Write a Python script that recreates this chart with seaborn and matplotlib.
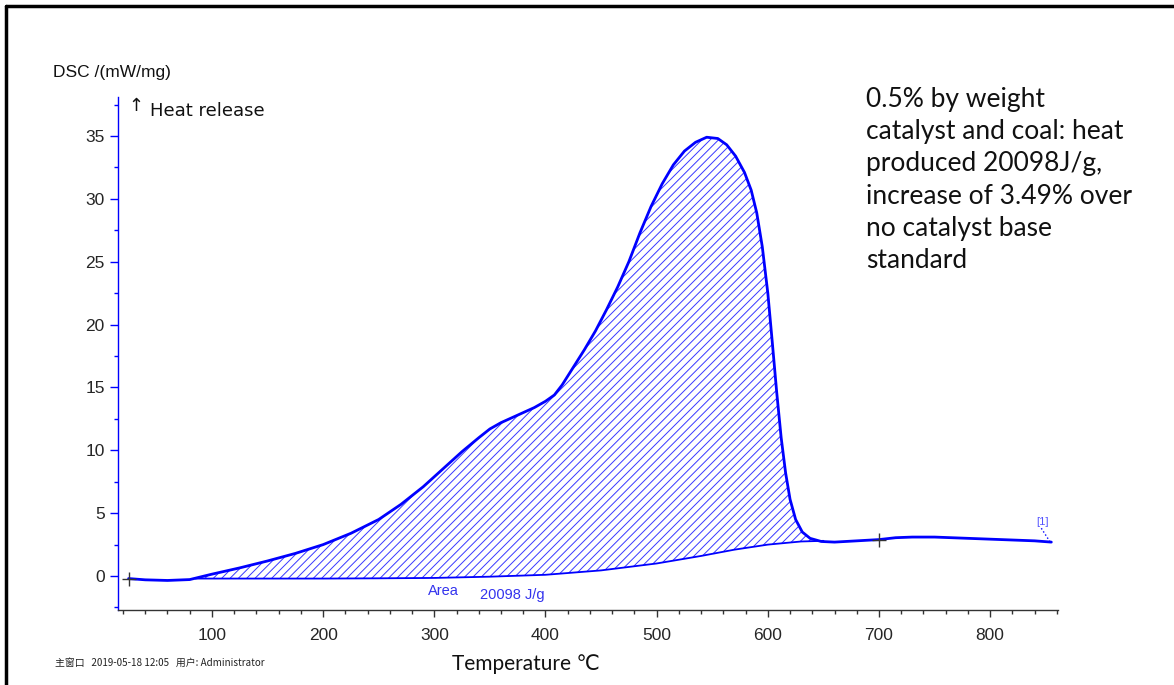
import numpy as np
import pandas as pd
import matplotlib
matplotlib.use("Agg")
import matplotlib.pyplot as plt
import seaborn as sns
from matplotlib.ticker import MultipleLocator

# ---- data ----
temp = [25, 40, 60, 80, 100, 125, 150, 175, 200, 225, 250, 270, 290, 310, 325, 340,
        350, 360, 370, 380, 390, 400, 408, 415, 425, 435, 445, 455, 465, 475, 485,
        495, 505, 515, 525, 535, 545, 555, 563, 571, 579, 585, 590, 595, 600, 604,
        608, 612, 616, 620, 625, 631, 638, 648, 660, 680, 700, 715, 730, 750, 780,
        810, 840, 855]
dsc = [-0.2, -0.3, -0.35, -0.28, 0.15, 0.65, 1.2, 1.8, 2.5, 3.4, 4.5, 5.7, 7.1, 8.7, 9.9, 11.0,
       11.7, 12.2, 12.6, 13.0, 13.4, 13.9, 14.4, 15.2, 16.6, 18.0, 19.5, 21.2, 23.0, 25.0, 27.3,
       29.4, 31.2, 32.7, 33.8, 34.5, 34.9, 34.8, 34.3, 33.4, 32.1, 30.7, 28.9, 26.2, 22.5, 18.6,
       14.6, 11.0, 8.2, 6.1, 4.5, 3.5, 3.0, 2.75, 2.7, 2.8, 2.9, 3.05, 3.1, 3.1, 3.0,
       2.9, 2.8, 2.7]
base_temp = [85, 150, 200, 250, 300, 350, 400, 450, 500, 540, 570, 600, 630, 650]
base_dsc = [-0.2, -0.2, -0.2, -0.18, -0.15, -0.05, 0.1, 0.45, 1.0, 1.6, 2.1, 2.5, 2.75, 2.8]
marker_temp = [25, 700]
marker_dsc = [-0.2, 2.9]
x_ticks = [100, 200, 300, 400, 500, 600, 700, 800]
y_ticks = [0, 5, 10, 15, 20, 25, 30, 35]
area_label = "20098 J/g"
note = ("0.5% by weight\ncatalyst and coal: heat\nproduced 20098J/g,\n"
        "increase of 3.49% over\nno catalyst base\nstandard")

df = pd.DataFrame({"temp": temp, "dsc": dsc})
bdf = pd.DataFrame({"temp": base_temp, "dsc": base_dsc})

sns.set_style("white")
plt.rcParams["font.family"] = ["Liberation Sans", "DejaVu Sans"]
plt.rcParams["hatch.color"] = "#3838ff"
plt.rcParams["hatch.linewidth"] = 0.7

fig = plt.figure(figsize=(11.74, 6.85), dpi=100)
ax = fig.add_axes([118 / 1174, 1 - 610 / 685, (1058 - 118) / 1174, (610 - 97) / 685])

# hatched area between curve and baseline
bx = np.array(base_temp, dtype=float)
grid = np.linspace(bx.min(), bx.max(), 600)
top = np.interp(grid, temp, dsc)
bot = np.interp(grid, base_temp, base_dsc)
ax.fill_between(grid, bot, top, facecolor="none", edgecolor="#3838ff", hatch="////", linewidth=0)

sns.lineplot(data=bdf, x="temp", y="dsc", ax=ax, color="#0000ff", linewidth=1.3, sort=False)
sns.lineplot(data=df, x="temp", y="dsc", ax=ax, color="#0000ff", linewidth=2.0, sort=False)
ax.plot(marker_temp, marker_dsc, linestyle="none", marker="+", color="#333333",
        markersize=10, markeredgewidth=1)

ax.set_xlim(15.5, 861)
ax.set_ylim(-2.7, 38.1)
ax.set_xticks(x_ticks)
ax.set_yticks(y_ticks)
ax.xaxis.set_minor_locator(MultipleLocator(20))
ax.yaxis.set_minor_locator(MultipleLocator(2.5))
ax.set_xlabel("")
ax.set_ylabel("")
for s in ["top", "right"]:
    ax.spines[s].set_visible(False)
ax.spines["left"].set_color("#0000ff")
ax.spines["left"].set_linewidth(1.0)
ax.spines["bottom"].set_color("#333333")
ax.spines["bottom"].set_linewidth(1.0)
ax.tick_params(axis="y", which="major", direction="out", length=6, width=1, color="#0000ff",
               labelsize=12.5, left=True)
ax.tick_params(axis="y", which="minor", direction="out", length=3, width=1, color="#0000ff", left=True)
ax.tick_params(axis="x", which="major", direction="out", length=5, width=1, color="#333333",
               labelsize=12.5, bottom=True, pad=8)
ax.tick_params(axis="x", which="minor", direction="out", length=3, width=1, color="#333333", bottom=True)

# annotations in axes
ax.text(308, -1.2, "Area", color="#3333ee", fontsize=10.5, ha="center", va="center")
ax.text(341, -1.5, area_label, color="#3333ee", fontsize=10.5, ha="left", va="center")
ax.text(847, 4.3, "[1]", color="#5555ff", fontsize=8, ha="center", va="center")
ax.plot([846, 854], [3.8, 2.7], color="#0000ff", linestyle=":", linewidth=1)

# figure texts
fig.text(53 / 1174, 1 - 72 / 685, "DSC /(mW/mg)", fontsize=12.5, ha="left", va="center",
         color="#111111")
fig.text(128 / 1174, 1 - 106 / 685, "↑", fontsize=13, ha="left", va="center",
         family=["DejaVu Sans"], color="#111111")
fig.text(150 / 1174, 1 - 111 / 685, "Heat release", fontsize=13, ha="left", va="center",
         family=["DejaVu Sans"], color="#111111")
fig.text(866 / 1174, 1 - 87 / 685, note, fontsize=19, ha="left", va="top",
         family=["Lato", "DejaVu Sans"], linespacing=1.36, color="#111111")
fig.text(526 / 1174, 1 - 664 / 685, "Temperature ℃", fontsize=15, ha="center", va="center",
         family=["Lato", "DejaVu Sans"], color="#111111")
fig.text(55 / 1174, 1 - 663 / 685, "主窗口   2019-05-18 12:05   用户: Administrator",
         fontsize=7.1, ha="left", va="center", family=["Noto Sans CJK SC", "DejaVu Sans"],
         color="#222222")

# outer frame (top and left)
fig.add_artist(plt.Line2D([6 / 1174, 1], [1 - 6 / 685, 1 - 6 / 685], transform=fig.transFigure,
                          color="black", linewidth=2.5))
fig.add_artist(plt.Line2D([6 / 1174, 6 / 1174], [0, 1 - 6 / 685], transform=fig.transFigure,
                          color="black", linewidth=2.5))

fig.savefig("out.png", dpi=100)
